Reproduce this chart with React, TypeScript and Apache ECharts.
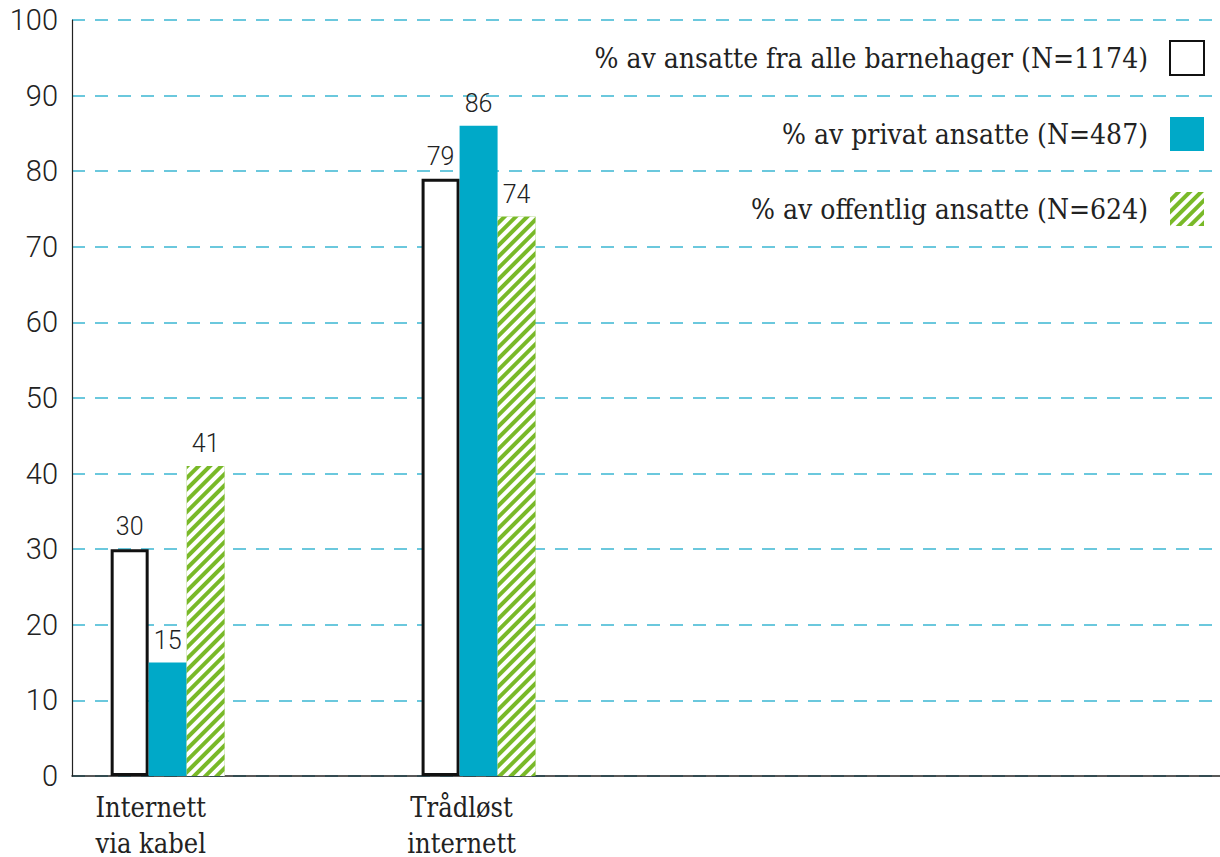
import React, { useEffect, useRef } from "react";
import * as echarts from "echarts";

const categories = ["Internett\nvia kabel", "Trådløst\ninternett"];
const categoryPositions = [1, 4.25];
const seriesNames = [
  "% av ansatte fra alle barnehager (N=1174)",
  "% av privat ansatte (N=487)",
  "% av offentlig ansatte (N=624)",
];
const allValues = [30, 79];
const privateValues = [15, 86];
const publicValues = [41, 74];
const yMin = 0;
const yMax = 100;
const yInterval = 10;

const SLAB = "'DejaVu Serif Condensed', 'DejaVu Serif', serif";
const NUM = "Roboto, sans-serif";
const TEXT = "#222222";
const BLUE = "#00a9c8";
const GREEN = "#79b928";

export default function App() {
  const ref = useRef<HTMLDivElement>(null);
  useEffect(() => {
    if (!ref.current) return;
    const chart = echarts.init(ref.current, undefined, { renderer: "svg" });
    const mk = (vals: number[]) => vals.map((v, i) => [categoryPositions[i], v]);
    const label = {
      show: true,
      position: "top",
      distance: 10,
      fontFamily: NUM,
      fontWeight: 300,
      fontSize: 25,
      color: TEXT,
    };
    chart.setOption({
      animation: false,
      backgroundColor: "#ffffff",
      grid: {
        left: 72,
        right: 0,
        top: 20,
        bottom: 81,
        containLabel: false,
        outerBoundsMode: "none",
      },
      legend: {
        orient: "vertical",
        align: "right",
        right: 10,
        top: 35,
        icon: "rect",
        itemWidth: 34,
        itemHeight: 34,
        itemGap: 41,
        selectedMode: false,
        textStyle: {
          fontFamily: SLAB,
          fontSize: 28,
          lineHeight: 34,
          color: TEXT,
          padding: [0, 17, 0, 0],
        },
        data: seriesNames,
      },
      xAxis: {
        type: "value",
        min: 0,
        max: 12,
        splitLine: { show: false },
        axisTick: { show: false },
        axisLine: { show: true, lineStyle: { color: TEXT, width: 1.5 } },
        axisLabel: {
          customValues: categoryPositions,
          formatter: (v: number) => {
            const i = categoryPositions.indexOf(v);
            return i >= 0 ? categories[i] : "";
          },
          fontFamily: SLAB,
          fontSize: 27,
          lineHeight: 36,
          color: TEXT,
          margin: 13,
          padding: [0, 34, 0, 0],
        },
      },
      yAxis: {
        type: "value",
        min: yMin,
        max: yMax,
        interval: yInterval,
        axisLine: { show: true, lineStyle: { color: TEXT, width: 1.2 } },
        axisTick: { show: false },
        axisLabel: {
          fontFamily: NUM,
          fontWeight: 300,
          fontSize: 29,
          color: TEXT,
          margin: 14,
        },
        splitLine: {
          show: true,
          lineStyle: { color: "#3bb7d2", width: 1.5, type: [13, 10], dashOffset: 0 },
        },
      },
      series: [
        {
          name: seriesNames[0],
          type: "bar",
          barWidth: 38,
          barGap: "0%",
          data: mk(allValues),
          itemStyle: { color: "#ffffff", borderColor: "#111111", borderWidth: 3 },
          label,
        },
        {
          name: seriesNames[1],
          type: "bar",
          barWidth: 38,
          barGap: "0%",
          data: mk(privateValues),
          itemStyle: { color: BLUE },
          label,
        },
        {
          name: seriesNames[2],
          type: "bar",
          barWidth: 38,
          barGap: "0%",
          data: mk(publicValues),
          itemStyle: {
            color: GREEN,
            decal: {
              symbol: "rect",
              symbolSize: 1,
              dashArrayX: [1, 0],
              dashArrayY: [4, 3.5],
              rotation: -Math.PI / 4,
              color: "#ffffff",
            },
          },
          label,
        },
      ],
    });
    return () => chart.dispose();
  }, []);
  return (
    <div
      ref={ref}
      style={{ position: "fixed", left: 0, top: 0, width: 1220, height: 857 }}
    />
  );
}
